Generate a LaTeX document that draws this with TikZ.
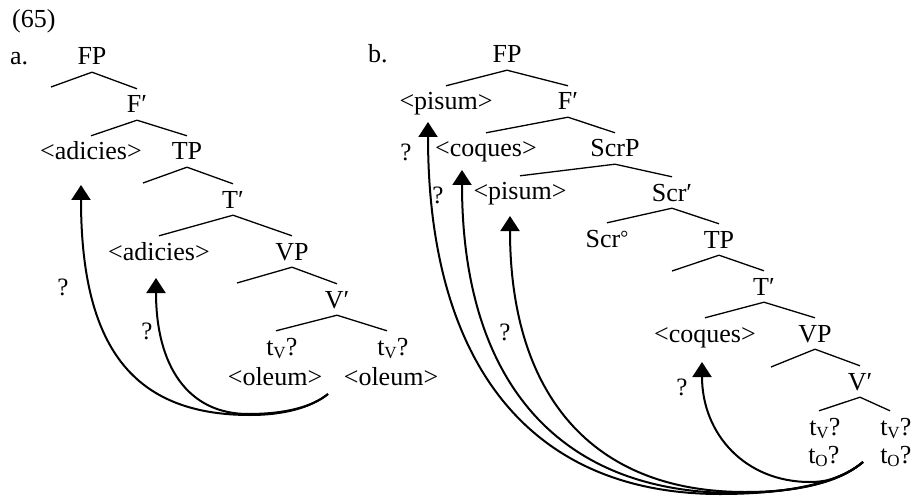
\documentclass[tikz,border=0pt]{standalone}
\usepackage{fontspec}
\setmainfont{Liberation Serif}
\usetikzlibrary{arrows.meta}
% trace with a small-capital subscript; the question mark hangs to the right
\newcommand{\trc}[1]{t\raisebox{-3.5pt}{\fontsize{17}{17}\selectfont #1}\rlap{?}}
% small raised ring for the head label
\newcommand{\hdring}{\raisebox{3pt}{\fontsize{20}{20}\selectfont °}}
\begin{document}
\begin{tikzpicture}[x=1pt,y=-1pt,
  lab/.style={anchor=base, inner xsep=0pt, inner ysep=7pt, text height=17pt, text depth=0pt,
              font=\fontsize{26}{30}\selectfont},
  txt/.style={anchor=base west, inner sep=0pt, font=\fontsize{26}{30}\selectfont},
  qm/.style={inner sep=0pt, font=\fontsize{25}{28}\selectfont},
  br/.style={line width=1.3pt},
  mv/.style={line width=2pt, -{Triangle[width=19pt,length=15pt]}},
]
\useasboundingbox (0,0) rectangle (915,497);

% ---------- (65) a. ----------
\node[txt] (ex) at (12,28) {(65)};
\node[txt] (la) at (10,65) {a.};

\node[lab] (aFP)  at (92,65)   {FP};
\node[lab] (aF1)  at (137,113) {F′};
\node[lab] (aAd1) at (91,160)  {<adicies>};
\node[lab] (aTP)  at (187,160) {TP};
\node[lab] (aT1)  at (233,208) {T′};
\node[lab] (aAd2) at (159,260) {<adicies>};
\node[lab] (aVP)  at (292,260) {VP};
\node[lab] (aV1)  at (337,308) {V′};
\node[lab] (atv1) at (276,355) {\trc{V}};
\node[lab] (atv2) at (387,355) {\trc{V}};
\node[lab] (aol1) at (275,385) {<oleum>};
\node[lab] (aol2) at (391,385) {<oleum>};
\node[qm]  (aq1)  at (63,287)  {?};
\node[qm]  (aq2)  at (147,331) {?};

\coordinate (aFPl) at (51,87);
\coordinate (aTPl) at (143,183);
\coordinate (aVPl) at (237,283);

\draw[br] (aFPl) -- (aFP.south) -- (aF1.north);
\draw[br] (aAd1.north) -- (aF1.south) -- (aTP.north);
\draw[br] (aTPl) -- (aTP.south) -- (aT1.north);
\draw[br] (aAd2.north) -- (aT1.south) -- (aVP.north);
\draw[br] (aVPl) -- (aVP.south) -- (aV1.north);
\draw[br] (atv1.north) -- (aV1.south) -- (atv2.north);

\coordinate (Sa)  at (328,394);
\coordinate (ta1) at (81,185);
\coordinate (ta2) at (156,278);
\draw[mv] (Sa) .. controls (312,407) and (285,415) .. (250,415)
               .. controls (132,415) and (81,346) .. (ta1);
\draw[mv] (Sa) .. controls (312,407) and (285,414) .. (248,414)
               .. controls (188,414) and (156,366) .. (ta2);

% ---------- b. ----------
\node[txt] (lb) at (368,63) {b.};

\node[lab] (bFP)   at (507,63)  {FP};
\node[lab] (bPi1)  at (446,110) {<pisum>};
\node[lab] (bF1)   at (568,110) {F′};
\node[lab] (bCo1)  at (486,157) {<coques>};
\node[lab] (bScrP) at (615,157) {ScrP};
\node[lab] (bPi2)  at (520,200) {<pisum>};
\node[lab] (bScr1) at (672,201) {Scr′};
\node[lab] (bScro) at (607,247) {Scr\hdring};
\node[lab] (bTP)   at (719,248) {TP};
\node[lab] (bT1)   at (764,295) {T′};
\node[lab] (bCo2)  at (705,342) {<coques>};
\node[lab] (bVP)   at (815,342) {VP};
\node[lab] (bV1)   at (860,390) {V′};
\node[lab] (btv1)  at (819,435) {\trc{V}};
\node[lab] (btv2)  at (890,435) {\trc{V}};
\node[lab] (bto1)  at (818,463) {\trc{O}};
\node[lab] (bto2)  at (890,463) {\trc{O}};
\node[qm]  (bq1)   at (406,152) {?};
\node[qm]  (bq2)   at (438,195) {?};
\node[qm]  (bq3)   at (505,332) {?};
\node[qm]  (bq4)   at (682,387) {?};

\coordinate (bTPl) at (672,271);
\coordinate (bVPl) at (771,367);

\draw[br] (bPi1.north) -- (bFP.south) -- (bF1.north);
\draw[br] (bCo1.north) -- (bF1.south) -- (bScrP.north);
\draw[br] (bPi2.north) -- (bScrP.south) -- (bScr1.north);
\draw[br] (bScro.north) -- (bScr1.south) -- (bTP.north);
\draw[br] (bTPl) -- (bTP.south) -- (bT1.north);
\draw[br] (bCo2.north) -- (bT1.south) -- (bVP.north);
\draw[br] (bVPl) -- (bVP.south) -- (bV1.north);
\draw[br] (btv1.north) -- (bV1.south) -- (btv2.north);

\coordinate (Sb)  at (863,462);
\coordinate (tb1) at (428,122);
\coordinate (tb2) at (462,170);
\coordinate (tb3) at (510,216);
\coordinate (tb4) at (702,362);
\draw[mv] (Sb) .. controls (840,482) and (790,494) .. (720,494)
               .. controls (530,494) and (428,364) .. (tb1);
\draw[mv] (Sb) .. controls (840,482) and (795,493) .. (735,493)
               .. controls (557,493) and (462,380) .. (tb2);
\draw[mv] (Sb) .. controls (840,482) and (800,492) .. (745,492)
               .. controls (592,492) and (510,395) .. (tb3);
\draw[mv] (Sb) .. controls (845,476) and (830,482) .. (810,482)
               .. controls (745,482) and (702,434) .. (tb4);
\end{tikzpicture}
\end{document}
